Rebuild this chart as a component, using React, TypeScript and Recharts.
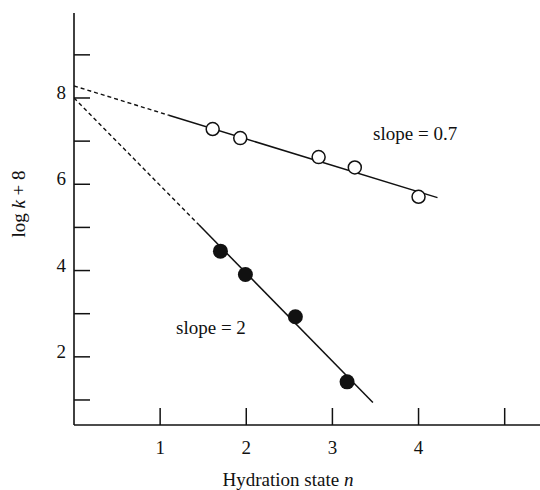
import { ComposedChart, Line, Scatter, XAxis, YAxis, ReferenceDot } from "recharts";

// hydrated (open circles) and anhydrous (filled circles) series
const openN = [1.61, 1.93, 2.84, 3.26, 4.0];
const openLogK = [7.28, 7.07, 6.63, 6.39, 5.71];
const filledN = [1.7, 1.99, 2.57, 3.17];
const filledLogK = [4.45, 3.91, 2.93, 1.42];

// fitted lines: [intercept, start of solid part, end of solid part]
const openFitN = [0, 1.1, 4.22];
const openFitLogK = [8.28, 7.6, 5.69];
const filledFitN = [0, 1.45, 3.47];
const filledFitLogK = [8.0, 5.06, 0.94];

const xTicks = [1, 2, 3, 4, 5];
const xTickLabels = ["1", "2", "3", "4", ""];
const yTicks = [1, 2, 3, 4, 5, 6, 7, 8, 9];
const yTickLabels = ["", "2", "", "4", "", "6", "", "8", ""];

const INK = "#111";
const FONT = "'Liberation Serif', 'DejaVu Serif', serif";

const pts = (xs: number[], ys: number[]) => xs.map((x, i) => ({ x, y: ys[i] }));

const openPts = pts(openN, openLogK);
const filledPts = pts(filledN, filledLogK);
const openDashed = pts(openFitN.slice(0, 2), openFitLogK.slice(0, 2));
const openSolid = pts(openFitN.slice(1), openFitLogK.slice(1));
const filledDashed = pts(filledFitN.slice(0, 2), filledFitLogK.slice(0, 2));
const filledSolid = pts(filledFitN.slice(1), filledFitLogK.slice(1));

const XTick = (props: any) => {
  const { x, y, payload } = props;
  const label = xTickLabels[xTicks.indexOf(payload.value)];
  return (
    <g>
      <line x1={x} x2={x} y1={y} y2={y - 17} stroke={INK} strokeWidth={1.5} />
      <text x={x} y={y + 29} textAnchor="middle" fontFamily={FONT} fontSize={19} fill={INK}>
        {label}
      </text>
    </g>
  );
};

const YTick = (props: any) => {
  const { x, y, payload } = props;
  const label = yTickLabels[yTicks.indexOf(payload.value)];
  return (
    <g>
      <line x1={x} x2={x + 16} y1={y} y2={y} stroke={INK} strokeWidth={1.5} />
      <text x={x - 8} y={y + 1} textAnchor="end" fontFamily={FONT} fontSize={19} fill={INK}>
        {label}
      </text>
    </g>
  );
};

const OpenDot = (p: any) => (
  <circle cx={p.cx} cy={p.cy} r={6.5} fill="#fff" stroke={INK} strokeWidth={1.5} />
);
const FilledDot = (p: any) => <circle cx={p.cx} cy={p.cy} r={7.5} fill={INK} />;

const textStyle = { fontFamily: FONT, fontSize: 19, fill: INK };

export default function App() {
  return (
    <div style={{ position: "absolute", left: 0, top: 0, width: 540, height: 490, background: "#fff" }}>
      <ComposedChart width={540} height={490} margin={{ top: 13, right: 0, left: 0, bottom: 0 }}>
        <XAxis
          type="number"
          dataKey="x"
          domain={[0, 5.41]}
          ticks={xTicks}
          tick={XTick}
          tickSize={0}
          tickMargin={0}
          tickLine={false}
          height={65}
          axisLine={{ stroke: INK, strokeWidth: 1.6 }}
          allowDataOverflow
          label={{
            content: () => (
              <text x={288} y={486} textAnchor="middle" {...textStyle}>
                Hydration state <tspan fontStyle="italic">n</tspan>
              </text>
            ),
          }}
        />
        <YAxis
          type="number"
          dataKey="y"
          domain={[0.42, 9.97]}
          ticks={yTicks}
          tick={YTick}
          tickSize={0}
          tickMargin={0}
          tickLine={false}
          width={74}
          axisLine={{ stroke: INK, strokeWidth: 1.6 }}
          allowDataOverflow
          label={{
            content: () => (
              <text transform="translate(25,204) rotate(-90)" textAnchor="middle" {...textStyle}>
                log <tspan fontStyle="italic">k</tspan> + 8
              </text>
            ),
          }}
        />
        <Line data={openDashed} dataKey="y" type="linear" stroke={INK} strokeWidth={1.4} strokeDasharray="4 3" dot={false} isAnimationActive={false} />
        <Line data={openSolid} dataKey="y" type="linear" stroke={INK} strokeWidth={1.5} dot={false} isAnimationActive={false} />
        <Line data={filledDashed} dataKey="y" type="linear" stroke={INK} strokeWidth={1.4} strokeDasharray="4 3" dot={false} isAnimationActive={false} />
        <Line data={filledSolid} dataKey="y" type="linear" stroke={INK} strokeWidth={1.5} dot={false} isAnimationActive={false} />
        <Scatter data={openPts} dataKey="y" shape={OpenDot} isAnimationActive={false} />
        <Scatter data={filledPts} dataKey="y" shape={FilledDot} isAnimationActive={false} />
        <ReferenceDot x={3.96} y={7.19} r={0} label={{ value: "slope = 0.7", position: "center", ...textStyle }} />
        <ReferenceDot x={1.59} y={2.69} r={0} label={{ value: "slope = 2", position: "center", ...textStyle }} />
      </ComposedChart>
    </div>
  );
}
